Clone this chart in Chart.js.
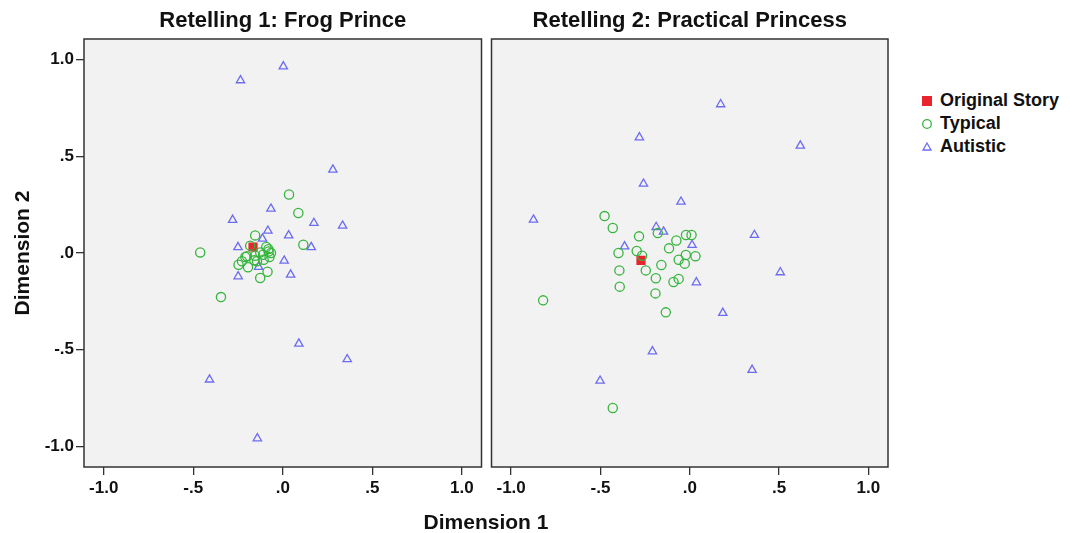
<!DOCTYPE html>
<html>
<head>
<meta charset="utf-8">
<script src="https://cdn.jsdelivr.net/npm/chart.js@4/dist/chart.umd.min.js"></script>
<style>
  body { margin: 0; background: #fff; font-family: "Liberation Sans", Arial, sans-serif; }
  #wrap { position: relative; width: 1070px; height: 533px; }
  .panel { position: absolute; top: 0; }
  .axis-title { position: absolute; font-weight: bold; font-size: 21px; color: #111; line-height: 24px; white-space: nowrap; }
  #legend { position: absolute; left: 920px; top: 89px; font-weight: bold; font-size: 18px; color: #111; }
  .legend-item { display: flex; align-items: center; height: 23px; }
  .legend-item svg { width: 14px; height: 14px; margin-right: 6px; }
</style>
</head>
<body>
<div id="wrap">
  <div class="panel" style="left:0"><canvas id="frogChart" width="488" height="533"></canvas></div>
  <div class="panel" style="left:485px"><canvas id="princessChart" width="410" height="533"></canvas></div>
  <div class="axis-title" style="left:0; width:972px; text-align:center; top:510px">Dimension 1</div>
  <div class="axis-title" style="left:-58px; top:241px; width:160px; text-align:center; transform:rotate(-90deg)">Dimension 2</div>
  <div id="legend"></div>
</div>
<script>
// tick values and labels shared by both panels
const axisTicks = [-1.0, -0.5, 0.0, 0.5, 1.0];
const axisTickLabels = ['-1.0', '-.5', '.0', '.5', '1.0'];
const seriesNames = ['Original Story', 'Typical', 'Autistic'];

// Retelling 1: Frog Prince  [dimension 1, dimension 2]
const frogOriginal = [[-0.166, 0.031]];
const frogTypical = [
  [0.035, 0.303], [0.087, 0.207], [-0.154, 0.091], [0.115, 0.043], [-0.461, 0.003],
  [-0.182, 0.038], [-0.092, 0.031], [-0.079, 0.008], [-0.066, 0.0], [-0.126, 0.003],
  [-0.154, -0.014], [-0.074, -0.021], [-0.209, -0.021], [-0.228, -0.043], [-0.247, -0.061],
  [-0.194, -0.074], [-0.107, -0.035], [-0.144, -0.043], [-0.085, -0.097], [-0.126, -0.129],
  [-0.345, -0.228], [-0.08, 0.02], [-0.11, -0.009], [-0.159, -0.038], [-0.2, -0.017]
];
const frogAutistic = [
  [0.003, 0.965], [-0.236, 0.893], [0.28, 0.431], [-0.066, 0.229], [-0.28, 0.171],
  [0.174, 0.155], [0.334, 0.141], [-0.083, 0.115], [0.033, 0.091], [-0.113, 0.074],
  [0.159, 0.03], [-0.25, 0.03], [0.008, -0.04], [-0.135, -0.072], [0.044, -0.112],
  [-0.249, -0.121], [0.09, -0.469], [0.36, -0.55], [-0.409, -0.655], [-0.142, -0.959]
];

// Retelling 2: Practical Princess
const princessOriginal = [[-0.273, -0.038]];
const princessTypical = [
  [-0.477, 0.191], [-0.431, 0.129], [-0.284, 0.086], [-0.179, 0.103], [-0.075, 0.065],
  [-0.021, 0.093], [0.01, 0.093], [-0.116, 0.024], [-0.297, 0.01], [-0.399, 0.0],
  [-0.267, -0.014], [-0.022, -0.01], [0.032, -0.017], [-0.062, -0.035], [-0.028, -0.055],
  [-0.159, -0.062], [-0.394, -0.09], [-0.246, -0.09], [-0.19, -0.131], [-0.062, -0.134],
  [-0.091, -0.15], [-0.392, -0.174], [-0.192, -0.209], [-0.821, -0.245], [-0.134, -0.307],
  [-0.431, -0.802]
];
const princessAutistic = [
  [0.173, 0.769], [-0.282, 0.598], [0.619, 0.555], [-0.259, 0.358], [-0.049, 0.265],
  [-0.875, 0.172], [-0.188, 0.134], [-0.147, 0.11], [0.362, 0.093], [0.013, 0.041],
  [-0.365, 0.034], [0.507, -0.1], [0.037, -0.152], [0.185, -0.31], [-0.209, -0.509],
  [0.349, -0.605], [-0.502, -0.661]
];

const RED = '#e8252d';
const GREEN = '#35b53d';
const BLUE = '#6c6cf2';
const tickFont = { family: '"Liberation Sans", Arial, sans-serif', size: 17, weight: 'bold' };

const toPoints = arr => arr.map(p => ({ x: p[0], y: p[1] }));

// grey plot background + dark frame
const plotBox = {
  id: 'plotBox',
  beforeDatasetsDraw(chart) {
    const a = chart.chartArea, ctx = chart.ctx;
    ctx.save();
    ctx.fillStyle = '#f2f2f2';
    ctx.fillRect(a.left, a.top, a.right - a.left, a.bottom - a.top);
    ctx.restore();
  },
  afterDraw(chart) {
    const a = chart.chartArea, ctx = chart.ctx;
    ctx.save();
    ctx.strokeStyle = '#333';
    ctx.lineWidth = 1.5;
    ctx.strokeRect(a.left, a.top, a.right - a.left, a.bottom - a.top);
    ctx.restore();
  }
};

function fixedTicks(scale) {
  scale.ticks = axisTicks.map(v => ({ value: v }));
}

function makePanel(canvasId, title, original, typical, autistic, showY, padding) {
  return new Chart(document.getElementById(canvasId), {
    type: 'scatter',
    data: {
      datasets: [{
        label: seriesNames[0],
        data: toPoints(original),
        pointStyle: 'rect',
        radius: 6.5,
        backgroundColor: RED,
        borderColor: RED,
        borderWidth: 0,
        order: 3
      }, {
        label: seriesNames[1],
        data: toPoints(typical),
        pointStyle: 'circle',
        radius: 4.6,
        backgroundColor: 'rgba(0,0,0,0)',
        borderColor: GREEN,
        borderWidth: 1.3,
        order: 1
      }, {
        label: seriesNames[2],
        data: toPoints(autistic),
        pointStyle: 'triangle',
        radius: 4.8,
        backgroundColor: 'rgba(0,0,0,0)',
        borderColor: BLUE,
        borderWidth: 1.3,
        order: 2
      }]
    },
    options: {
      responsive: false,
      animation: false,
      layout: { padding: padding },
      plugins: {
        legend: { display: false },
        tooltip: { enabled: false },
        title: {
          display: true,
          text: title,
          fullSize: false,
          color: '#111',
          font: { family: '"Liberation Sans", Arial, sans-serif', size: 22, weight: 'bold' },
          padding: { top: 8, bottom: 4.6 }
        }
      },
      scales: {
        x: {
          type: 'linear',
          min: -1.11,
          max: 1.11,
          afterBuildTicks: fixedTicks,
          afterFit: s => { s.height = 40; },
          grid: { drawOnChartArea: false, drawTicks: true, tickLength: 8, color: '#333', lineWidth: 1.3 },
          border: { display: false },
          ticks: {
            color: '#111',
            font: tickFont,
            padding: 3,
            maxRotation: 0,
            callback: (v, i) => axisTickLabels[i]
          }
        },
        y: {
          type: 'linear',
          display: showY,
          min: -1.107,
          max: 1.107,
          afterBuildTicks: fixedTicks,
          afterFit: s => { s.width = showY ? 84 : 0; },
          grid: { drawOnChartArea: false, drawTicks: true, tickLength: 8, color: '#333', lineWidth: 1.3 },
          border: { display: false },
          ticks: {
            color: '#111',
            font: tickFont,
            padding: 2,
            callback: (v, i) => axisTickLabels[i]
          }
        }
      }
    },
    plugins: [plotBox]
  });
}

makePanel('frogChart', 'Retelling 1: Frog Prince', frogOriginal, frogTypical, frogAutistic, true,
  { left: 0, right: 0, top: 0, bottom: 26 });
makePanel('princessChart', 'Retelling 2: Practical Princess', princessOriginal, princessTypical, princessAutistic, false,
  { left: 5, right: 7, top: 0, bottom: 26 });

// legend
const legendContainer = document.getElementById('legend');
const markers = [
  `<svg viewBox="0 0 14 14"><rect x="2" y="2" width="10" height="10" fill="${RED}"/></svg>`,
  `<svg viewBox="0 0 14 14"><circle cx="7" cy="7" r="4.3" fill="none" stroke="${GREEN}" stroke-width="1.3"/></svg>`,
  `<svg viewBox="0 0 14 14"><polygon points="7,3 11,10 3,10" fill="none" stroke="${BLUE}" stroke-width="1.3"/></svg>`
];
seriesNames.forEach((name, i) => {
  const item = document.createElement('div');
  item.className = 'legend-item';
  item.innerHTML = markers[i] + `<span>${name}</span>`;
  legendContainer.appendChild(item);
});
</script>
</body>
</html>
